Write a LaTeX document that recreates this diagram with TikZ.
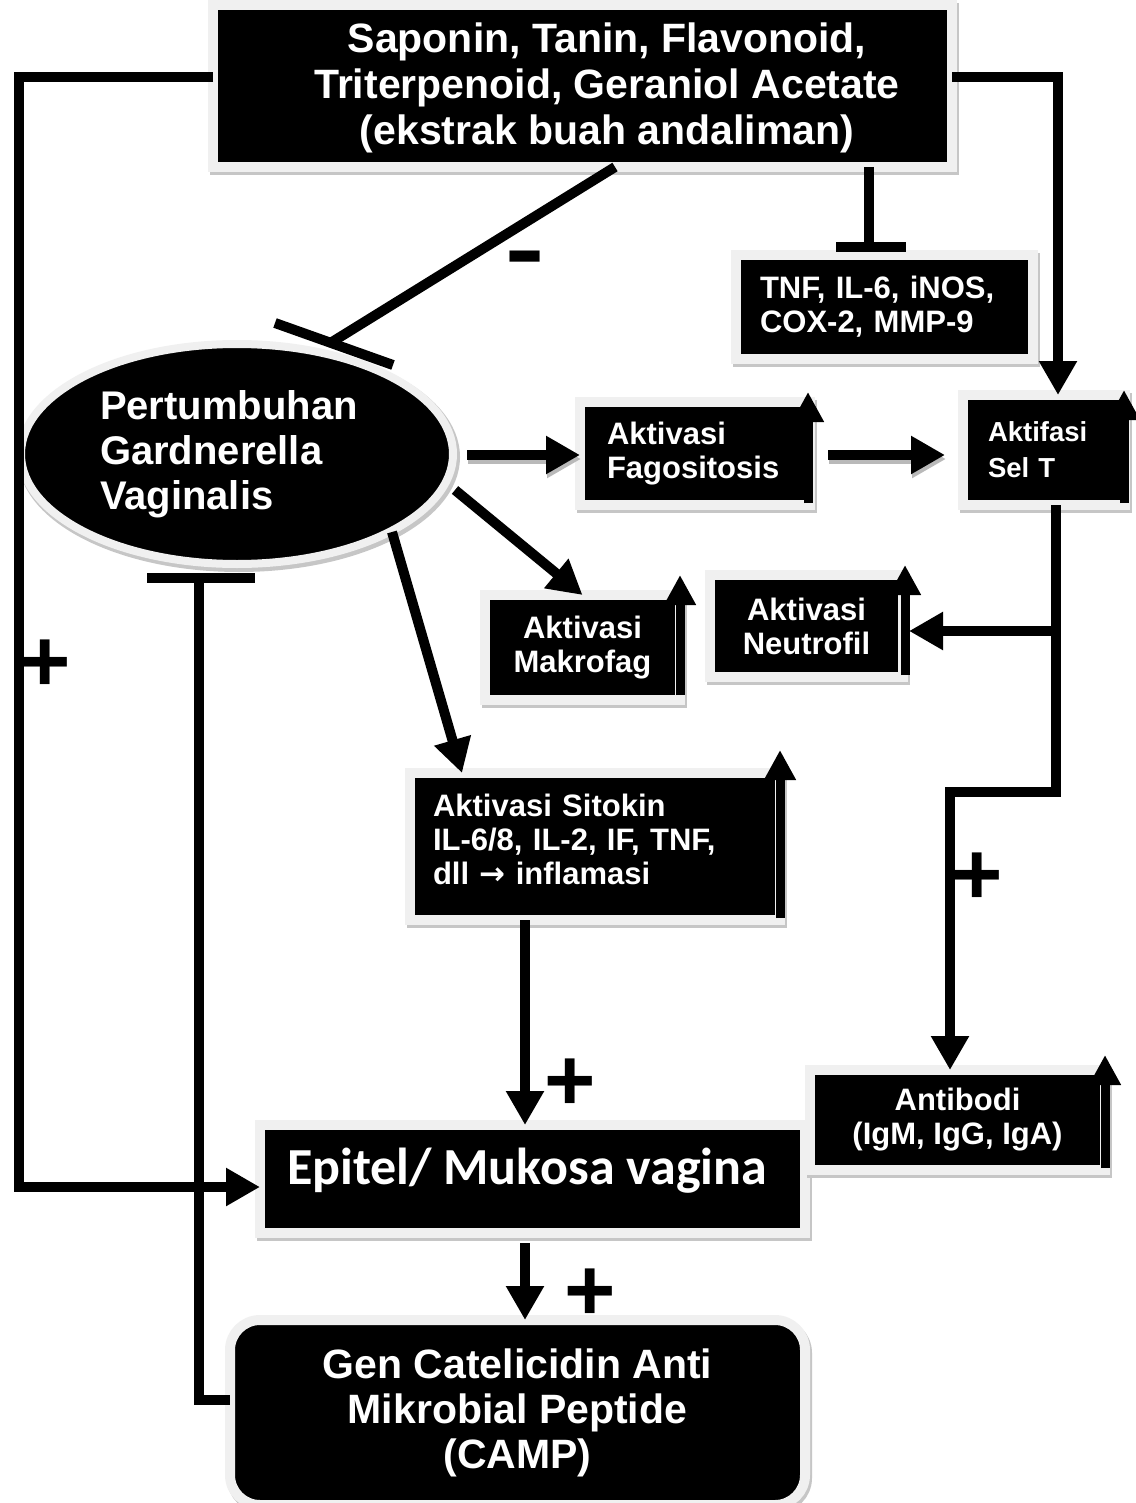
\documentclass[tikz,border=0pt]{standalone}
\usepackage{fontspec}
\setmainfont{Liberation Sans}
\newfontfamily\calib{Carlito}
\newfontfamily\dejavu{DejaVu Sans}
\usetikzlibrary{arrows.meta,calc,shapes.geometric}
\begin{document}
\begin{tikzpicture}[x=1pt,y=-1pt,
  blk/.style={fill=black, draw=gray!12, line width=10pt, outer sep=0pt, inner sep=0pt,
    text=white, font=\bfseries\fontsize{31}{34}\selectfont,
    preaction={draw=gray!45, line width=10pt, transform canvas={shift={(2pt,-3pt)}}}},
  txt/.style={text=white, inner sep=0pt},
  con/.style={line width=10pt, draw=black},
  arr/.style={con, -{Triangle[length=34pt,width=36pt]}},
  uparr/.style={line width=9pt, draw=black, -{Triangle[length=30pt,width=30pt]}},
  sign/.style={inner sep=0pt, font=\bfseries\fontsize{88}{88}\selectfont}
]
\fill[white] (0,0) rectangle (1135,1503);
\useasboundingbox (0,0) rectangle (1135,1503);

% boxes
\node[blk, minimum width=739pt, minimum height=162pt] (T) at (582.5,86) {};
\node[txt, align=center, font=\bfseries\fontsize{41}{46}\selectfont] (Tt) at (607,88)
  {Saponin, Tanin, Flavonoid,\\Triterpenoid, Geraniol Acetate\\(ekstrak buah andaliman)};

\node[blk, minimum width=297pt, minimum height=104pt, text width=249pt, align=left] (X) at (884.5,307)
  {TNF, IL-6, iNOS,\\COX-2, MMP-9};

\node[blk, ellipse, line width=8pt, minimum width=432pt, minimum height=220pt, text width=274pt, align=left,
  font=\bfseries\fontsize{40}{45}\selectfont] (E) at (237,454) {Pertumbuhan\\Gardnerella\\Vaginalis};

\node[blk, minimum width=230pt, minimum height=103pt, text width=176pt, align=left] (F) at (695,453.5)
  {Aktivasi\\Fagositosis};
\node[blk, minimum width=162pt, minimum height=110pt, text width=112pt, align=left,
  font=\bfseries\fontsize{27.5}{36}\selectfont] (S) at (1044,450) {Aktifasi\\Sel T};
\node[blk, minimum width=195pt, minimum height=105pt, align=center] (M) at (582.5,647.5)
  {Aktivasi\\Makrofag};
\node[blk, minimum width=193pt, minimum height=102pt, align=center] (N) at (806.5,626)
  {Aktivasi\\Neutrofil};
\node[blk, minimum width=370pt, minimum height=147pt] (K) at (595,846.5) {};
\node[txt, text width=324pt, align=left, font=\bfseries\fontsize{31}{34}\selectfont] (Kt) at (595,839.5)
  {Aktivasi Sitokin\\IL-6/8, IL-2, IF, TNF,\\dll {\dejavu\bfseries →} inflamasi};
\node[blk, minimum width=545pt, minimum height=108pt] (P) at (532.5,1179) {};
\node[txt, font=\calib\bfseries\fontsize{52}{58}\selectfont] (Pt) at (527,1171) {Epitel/ Mukosa vagina};
\node[blk, minimum width=295pt, minimum height=100pt, align=center] (A) at (957.5,1120)
  {Antibodi\\(IgM, IgG, IgA)};
\node[blk, rounded corners=30pt, minimum width=575pt, minimum height=185pt, align=center,
  font=\bfseries\fontsize{41}{45}\selectfont] (C) at (517.5,1412.5)
  {Gen Catelicidin Anti\\Mikrobial Peptide\\(CAMP)};

% up markers beside boxes
\draw[uparr] ($(F.south east)+(-2,-2)$) -- ($(F.north east)+(-2,-10)$);
\draw[uparr] ($(S.south east)+(-1,-2)$) -- ($(S.north east)+(-1,-5)$);
\draw[uparr] ($(M.south east)+(0,-5)$) -- ($(M.north east)+(0,-20)$);
\draw[uparr] ($(N.south east)+(2,-2)$) -- ($(N.north east)+(2,-10)$);
\draw[uparr] ($(K.south east)+(0,-2)$) -- ($(K.north east)+(0,-23)$);
\draw[uparr] ($(A.south east)+(0,-2)$) -- ($(A.north east)+(0,-15)$);

% connectors
\draw[arr] (T.west |- 0,77) -- (19,77) |- (P.west |- 0,1187);
\draw[arr] (T.east |- 0,77) -| (S.north -| 1058,0);

\draw[con] (T.south -| 615,0) -- (332,342);
\draw[con] (275,323) -- (393,365);
\node[inner sep=0pt, font=\bfseries\fontsize{60}{60}\selectfont] (minus) at (525,271) {\scalebox{1}[1.7]{−}};

\draw[con] (T.south -| 869,0) -- (869,247);
\draw[con] (836,247) -- (906,247);

\draw[con] (147,578) -- (255,578);
\draw[con] (199,578) |- (C.west |- 0,1400);

\draw[arr, draw=gray!55, transform canvas={shift={(1pt,-4pt)}}] ($(E.east |- 0,455)+(14,0)$) -- (F.west |- 0,455);
\draw[arr] ($(E.east |- 0,455)+(14,0)$) -- (F.west |- 0,455);
\draw[arr, draw=gray!55, transform canvas={shift={(1pt,-4pt)}}] ($(F.east |- 0,455)+(18,0)$) -- ($(S.west |- 0,455)+(-18,0)$);
\draw[arr] ($(F.east |- 0,455)+(18,0)$) -- ($(S.west |- 0,455)+(-18,0)$);

\draw[arr] (455,490) -- (M.north);
\draw[arr] (392,532) -- (K.north -| 462,0);

\draw[arr] (S.south -| 1056,0) |- (950,792) -- (A.north -| 950,0);
\draw[arr] (1056,631) -- ($(N.east |- 0,631)+(6,0)$);

\draw[arr] (K.south -| 525,0) -- (P.north -| 525,0);
\draw[arr] ($(P.south -| 525,0)+(0,10)$) -- (C.north -| 525,0);

% signs
\node[sign] (p1) at (45,666) {+};
\node[sign] (p2) at (977,879) {+};
\node[sign] (p3) at (570,1085) {+};
\node[sign] (p4) at (590,1295) {+};
\end{tikzpicture}
\end{document}
